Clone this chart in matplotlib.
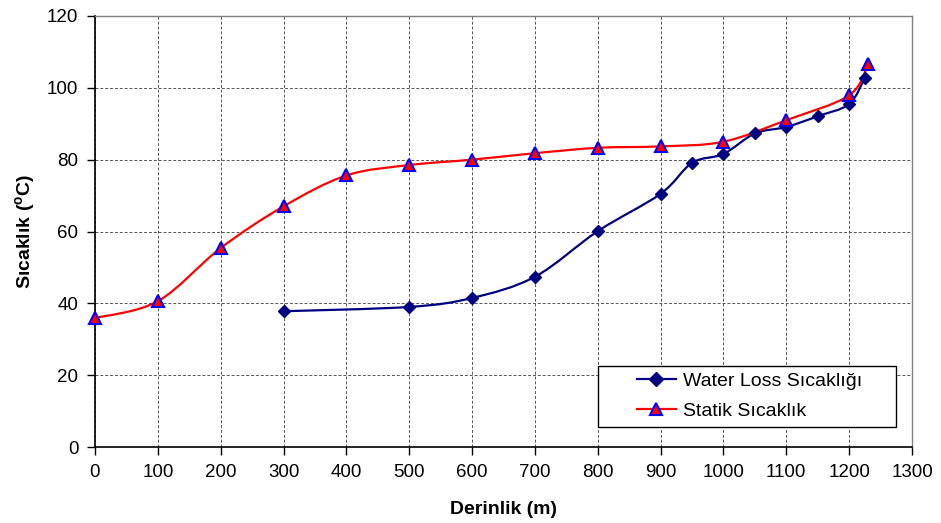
import matplotlib.pyplot as plt
from matplotlib.path import Path
from matplotlib.patches import PathPatch, Rectangle
from matplotlib.lines import Line2D
import numpy as np

plt.rcParams['font.family'] = ['Liberation Sans', 'DejaVu Sans']
plt.rcParams['mathtext.default'] = 'regular'

# Water loss temperature measurements
wl_depth = [300, 500, 600, 700, 800, 900, 950, 1000, 1050, 1100, 1150, 1200, 1225]
wl_temp = [37.8, 39.0, 41.5, 47.4, 60.1, 70.5, 79.1, 81.6, 87.3, 89.1, 92.1, 95.5, 102.8]

# Static temperature measurements
st_depth = [0, 100, 200, 300, 400, 500, 600, 700, 800, 900, 1000, 1100, 1200, 1230]
st_temp = [35.9, 40.6, 55.4, 67.0, 75.6, 78.5, 80.0, 81.8, 83.3, 83.7, 85.0, 91.0, 97.9, 106.6]

x_ticks = list(range(0, 1301, 100))
y_ticks = list(range(0, 121, 20))


def smooth_path(xs, ys):
    # Catmull-Rom style cubic Bezier through every point (spreadsheet "smoothed line")
    p = np.column_stack([xs, ys]).astype(float)
    n = len(p)
    verts = [p[0]]
    codes = [Path.MOVETO]
    for i in range(n - 1):
        p0 = p[i - 1] if i > 0 else p[i]
        p3 = p[i + 2] if i + 2 < n else p[i + 1]
        c1 = p[i] + (p[i + 1] - p0) / 6.0
        c2 = p[i + 1] - (p3 - p[i]) / 6.0
        verts += [c1, c2, p[i + 1]]
        codes += [Path.CURVE4] * 3
    return Path(verts, codes)


fig = plt.figure(figsize=(9.41, 5.23), dpi=100)
ax = fig.add_axes([95 / 941, 76 / 523, 817 / 941, 431 / 523])

ax.add_patch(PathPatch(smooth_path(wl_depth, wl_temp), fill=False,
                       edgecolor='#000080', lw=1.6, zorder=3))
ax.add_patch(PathPatch(smooth_path(st_depth, st_temp), fill=False,
                       edgecolor='#ff0000', lw=1.6, zorder=3))
ax.plot(wl_depth, wl_temp, linestyle='none', marker='D', ms=6.5,
        color='#000080', zorder=4, clip_on=False)
ax.plot(st_depth, st_temp, linestyle='none', marker='^', ms=8,
        markerfacecolor='#ff0000', markeredgecolor='#0000ff', mew=1.5,
        zorder=5, clip_on=False)

ax.set_xlim(0, 1300)
ax.set_ylim(0, 120)
ax.set_xticks(x_ticks)
ax.set_yticks(y_ticks)
ax.tick_params(labelsize=13.5, direction='out', length=6, width=1, pad=6)
ax.grid(True, color='#555555', linestyle=(0, (3, 2)), lw=0.7)
ax.set_axisbelow(True)
for side in ('left', 'bottom'):
    ax.spines[side].set_linewidth(1.2)
    ax.spines[side].set_color('black')
for side in ('top', 'right'):
    ax.spines[side].set_color('#808080')
    ax.spines[side].set_linewidth(1.0)

ax.set_xlabel('Derinlik (m)', fontsize=14, fontweight='bold', labelpad=15)
ax.set_ylabel('Sıcaklık ($^{o}$C)', fontsize=14, fontweight='bold', labelpad=7)

# legend box drawn separately so the entries can sit inset from its left edge
ax.add_patch(Rectangle((503 / 817, 20 / 431), 298 / 817, 61 / 431,
                       transform=ax.transAxes, facecolor='white',
                       edgecolor='black', lw=1.0, zorder=6))
handles = [
    Line2D([], [], color='#000080', lw=1.6, marker='D', ms=7),
    Line2D([], [], color='#ff0000', lw=1.6, marker='^', ms=8.5,
           markerfacecolor='#ff0000', markeredgecolor='#0000ff', mew=1.5),
]
leg = ax.legend(handles, ['Water Loss Sıcaklığı', 'Statik Sıcaklık'],
                loc='center left', bbox_to_anchor=(542 / 817, 51 / 431),
                fontsize=14, frameon=False, borderpad=0, borderaxespad=0,
                handlelength=2.0, handletextpad=0.35, labelspacing=0.65)
leg.set_zorder(7)

fig.savefig('out.png', dpi=100)
